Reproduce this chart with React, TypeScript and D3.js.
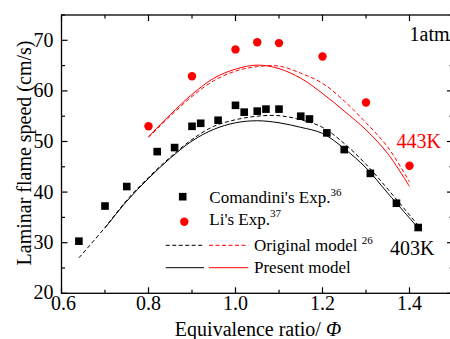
import React from "react";
import * as d3 from "d3";

// Experimental data
const comPhi = [0.64, 0.70, 0.75, 0.82, 0.86, 0.90, 0.92, 0.96, 1.00, 1.02, 1.05, 1.07, 1.10, 1.15, 1.17, 1.21, 1.25, 1.31, 1.37, 1.42];
const comSpeed = [30.3, 37.25, 41.1, 48.0, 48.8, 53.0, 53.6, 54.2, 57.15, 55.8, 56.0, 56.4, 56.4, 55.0, 54.45, 51.7, 48.4, 43.7, 37.8, 33.0];
const liPhi = [0.80, 0.90, 1.00, 1.05, 1.10, 1.20, 1.30, 1.40];
const liSpeed = [53.0, 62.9, 68.2, 69.6, 69.45, 66.8, 57.7, 45.2];

// Model curves (403K)
const present403Phi = [0.70, 0.75, 0.80, 0.85, 0.90, 0.95, 1.00, 1.05, 1.10, 1.15, 1.20, 1.25, 1.30, 1.35, 1.42];
const present403Speed = [32.9, 38.2, 42.7, 46.7, 50.1, 52.4, 53.7, 54.1, 53.7, 52.8, 51.6, 48.6, 44.8, 39.8, 32.9];
const original403Phi = [0.64, 0.70, 0.75, 0.80, 0.85, 0.90, 0.95, 1.00, 1.05, 1.10, 1.15, 1.20, 1.25, 1.30, 1.35, 1.42];
const original403Speed = [27.0, 33.0, 38.4, 42.9, 46.9, 50.4, 53.0, 54.3, 55.0, 55.1, 54.3, 52.8, 49.6, 45.5, 40.6, 33.4];
// Model curves (443K)
const present443Phi = [0.80, 0.85, 0.90, 0.95, 1.00, 1.05, 1.10, 1.15, 1.20, 1.25, 1.30, 1.35, 1.40];
const present443Speed = [50.95, 55.3, 59.3, 62.5, 64.3, 65.1, 64.4, 62.5, 59.5, 56.0, 52.3, 47.6, 41.1];
const original443Phi = [0.80, 0.85, 0.90, 0.95, 1.00, 1.05, 1.10, 1.15, 1.20, 1.25, 1.30, 1.35, 1.40];
const original443Speed = [50.8, 55.0, 58.9, 62.0, 63.9, 64.8, 64.9, 63.5, 61.5, 58.0, 53.7, 48.9, 42.0];

const xTicks = [0.6, 0.8, 1.0, 1.2, 1.4];
const xMinor = [0.7, 0.9, 1.1, 1.3, 1.5];
const yTicks = [20, 30, 40, 50, 60, 70];
const yMinor = [25, 35, 45, 55, 65, 75];

const FONT = '"Liberation Serif", "DejaVu Serif", serif';
const RED = "#ff0000";

export default function App() {
  const W = 450, H = 339;
  const x = d3.scaleLinear().domain([0.6, 1.5]).range([61.5, 453]);
  const y = d3.scaleLinear().domain([20, 75]).range([293.3, 15]);
  const line = d3
    .line<[number, number]>()
    .x((d) => x(d[0]))
    .y((d) => y(d[1]))
    .curve(d3.curveCatmullRom.alpha(0.5));
  const zip = (a: number[], b: number[]) => a.map((v, i) => [v, b[i]] as [number, number]);

  const x0 = x(0.6), x1 = x(1.5), y0 = y(20), y1 = y(75);
  const majorLen = 6, minorLen = 3.5;
  const dash = "4,2.5";
  const ts = { fontFamily: FONT };
  const LF = 17;

  return (
    <svg width={W} height={H} style={{ position: "absolute", left: 0, top: 0, background: "#fff", fontFamily: FONT }}>
      {/* model curves */}
      <path d={line(zip(original403Phi, original403Speed)) || ""} fill="none" stroke="#000" strokeWidth={1} strokeDasharray={dash} />
      <path d={line(zip(present403Phi, present403Speed)) || ""} fill="none" stroke="#000" strokeWidth={1} />
      <path d={line(zip(original443Phi, original443Speed)) || ""} fill="none" stroke={RED} strokeWidth={1} strokeDasharray={dash} />
      <path d={line(zip(present443Phi, present443Speed)) || ""} fill="none" stroke={RED} strokeWidth={1} />

      {/* experimental points */}
      {comPhi.map((p, i) => (
        <rect key={"c" + i} x={x(p) - 3.8} y={y(comSpeed[i]) - 3.8} width={7.6} height={7.6} fill="#000" />
      ))}
      {liPhi.map((p, i) => (
        <circle key={"l" + i} cx={x(p)} cy={y(liSpeed[i])} r={4.2} fill={RED} />
      ))}

      {/* frame */}
      <rect x={x0} y={y1} width={x1 - x0} height={y0 - y1} fill="none" stroke="#000" strokeWidth={1.3} />
      {/* ticks */}
      {xTicks.map((t) => (
        <g key={"xt" + t}>
          <line x1={x(t)} x2={x(t)} y1={y0} y2={y0 - majorLen} stroke="#000" strokeWidth={1.2} />
          <line x1={x(t)} x2={x(t)} y1={y1} y2={y1 + majorLen} stroke="#000" strokeWidth={1.2} />
          <text style={ts} x={x(t) + (t === 0.6 ? 2 : 0)} y={310} fontSize={20} textAnchor="middle">{t.toFixed(1)}</text>
        </g>
      ))}
      {xMinor.map((t) => (
        <g key={"xm" + t}>
          <line x1={x(t)} x2={x(t)} y1={y0} y2={y0 - minorLen} stroke="#000" strokeWidth={1.2} />
          <line x1={x(t)} x2={x(t)} y1={y1} y2={y1 + minorLen} stroke="#000" strokeWidth={1.2} />
        </g>
      ))}
      {yTicks.map((t) => (
        <g key={"yt" + t}>
          <line x1={x0} x2={x0 + majorLen} y1={y(t)} y2={y(t)} stroke="#000" strokeWidth={1.2} />
          <line x1={x1} x2={x1 - majorLen} y1={y(t)} y2={y(t)} stroke="#000" strokeWidth={1.2} />
          <text style={ts} x={53.5} y={y(t) + 6.5 - (t === 20 ? 1 : 0)} fontSize={20} textAnchor="end">{t}</text>
        </g>
      ))}
      {yMinor.map((t) => (
        <g key={"ym" + t}>
          <line x1={x0} x2={x0 + minorLen} y1={y(t)} y2={y(t)} stroke="#000" strokeWidth={1.2} />
          <line x1={x1} x2={x1 - minorLen} y1={y(t)} y2={y(t)} stroke="#000" strokeWidth={1.2} />
        </g>
      ))}

      {/* axis titles */}
      <text style={ts} x={258} y={335.5} fontSize={20} textAnchor="middle">
        Equivalence ratio/ <tspan fontStyle="italic">Φ</tspan>
      </text>
      <text style={ts} transform={`translate(30.5, ${153}) rotate(-90)`} fontSize={20} textAnchor="middle">
        Laminar flame speed (cm/s)
      </text>

      {/* annotations */}
      <text style={ts} x={409.5} y={40.7} fontSize={20}>1atm</text>
      <text style={ts} x={396.5} y={148.3} fontSize={20} fill={RED}>443K</text>
      <text style={ts} x={390} y={255} fontSize={20}>403K</text>

      {/* legend */}
      <rect x={182.7 - 3.8} y={196.7 - 3.8} width={7.6} height={7.6} fill="#000" />
      <text style={ts} x={209.3} y={203.3} fontSize={LF}>
        Comandini's Exp.<tspan fontSize={11} dy={-7.5}>36</tspan>
      </text>
      <circle cx={184.3} cy={221.7} r={4.2} fill={RED} />
      <text style={ts} x={209.3} y={224.5} fontSize={LF}>
        Li's Exp.<tspan fontSize={11} dy={-7.5}>37</tspan>
      </text>
      <line x1={165.7} x2={204} y1={245.3} y2={245.3} stroke="#000" strokeWidth={1} strokeDasharray={dash} />
      <line x1={209} x2={248.3} y1={245.3} y2={245.3} stroke={RED} strokeWidth={1} strokeDasharray={dash} />
      <text style={ts} x={254} y={251} fontSize={LF}>
        Original model <tspan fontSize={11} dy={-7.5}>26</tspan>
      </text>
      <line x1={165.7} x2={204} y1={267.7} y2={267.7} stroke="#000" strokeWidth={1} />
      <line x1={209} x2={248.3} y1={267.7} y2={267.7} stroke={RED} strokeWidth={1} />
      <text style={ts} x={254} y={272.5} fontSize={LF}>Present model</text>
    </svg>
  );
}
